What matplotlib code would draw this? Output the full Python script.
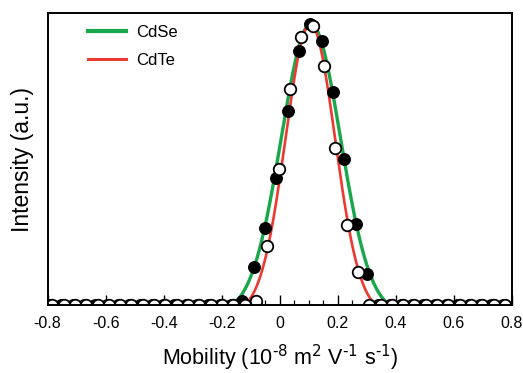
import numpy as np
import matplotlib
matplotlib.use("Agg")
import matplotlib.pyplot as plt

plt.rcParams['font.family'] = ['Liberation Sans', 'DejaVu Sans']

# Measured data (CdSe: filled circles, CdTe: open circles)
x_cdse = [-0.792, -0.753, -0.714, -0.675, -0.636, -0.597, -0.558, -0.519, -0.480, -0.441,
          -0.402, -0.363, -0.324, -0.285, -0.246, -0.207, -0.168, -0.129, -0.090, -0.051,
          -0.012, 0.027, 0.066, 0.105, 0.144, 0.183, 0.222, 0.261, 0.300, 0.339,
          0.378, 0.417, 0.456, 0.495, 0.534, 0.573, 0.612, 0.651, 0.690, 0.729, 0.768]
y_cdse = [0, 0, 0, 0, 0, 0, 0, 0, 0, 0,
          0, 0, 0, 0, 0, 0, 0, 0.015, 0.136, 0.275,
          0.453, 0.690, 0.903, 1.000, 0.938, 0.757, 0.518, 0.290, 0.110, 0,
          0, 0, 0, 0, 0, 0, 0, 0, 0, 0, 0]

x_cdte = [-0.784, -0.745, -0.706, -0.667, -0.628, -0.589, -0.550, -0.511, -0.472, -0.433,
          -0.394, -0.355, -0.316, -0.277, -0.238, -0.199, -0.160, -0.121, -0.082, -0.043,
          -0.004, 0.035, 0.074, 0.113, 0.152, 0.191, 0.230, 0.269, 0.308, 0.347,
          0.386, 0.425, 0.464, 0.503, 0.542, 0.581, 0.620, 0.659, 0.698, 0.737, 0.776]
y_cdte = [0, 0, 0, 0, 0, 0, 0, 0, 0, 0,
          0, 0, 0, 0, 0, 0, 0, 0, 0.015, 0.209,
          0.482, 0.767, 0.953, 0.991, 0.850, 0.560, 0.286, 0.118, 0, 0,
          0, 0, 0, 0, 0, 0, 0, 0, 0, 0, 0]

# Gaussian fit parameters (center, sigma, baseline offset)
cdse_fit = (0.107, 0.102, 0.03)
cdte_fit = (0.105, 0.085, 0.03)

xticks = [-0.8, -0.6, -0.4, -0.2, 0, 0.2, 0.4, 0.6, 0.8]
xtick_labels = ['-0.8', '-0.6', '-0.4', '-0.2', '0', '0.2', '0.4', '0.6', '0.8']

green = '#1aa64a'
red = '#ec3a30'

def fit_curve(x, params):
    c, s, b = params
    return (1 + b) * np.exp(-(x - c) ** 2 / (2 * s ** 2)) - b

fig = plt.figure(figsize=(5.23, 3.73), dpi=100)
ax = fig.add_axes([0.091, 0.182, 0.888, 0.783])

xs = np.linspace(-0.8, 0.8, 1200)
ax.plot(xs, fit_curve(xs, cdse_fit), color=green, lw=2.4, label='CdSe', zorder=2)
ax.plot(xs, fit_curve(xs, cdte_fit), color=red, lw=1.9, label='CdTe', zorder=2)

ax.plot(x_cdse, y_cdse, 'o', color='black', ms=8.3, mec='black', mew=1.0, zorder=3)
ax.plot(x_cdte, y_cdte, 'o', mfc='white', mec='black', ms=8.3, mew=1.3, zorder=4)

ax.set_xlim(-0.8, 0.8)
ax.set_ylim(0, 1.038)
ax.set_xticks(xticks)
ax.set_xticklabels(xtick_labels)
ax.set_xticks(np.arange(-0.8, 0.801, 0.05), minor=True)
ax.set_yticks([])
ax.tick_params(axis='x', which='major', direction='in', length=7, width=1.0,
               labelsize=11.5, pad=7.5, top=False)
ax.tick_params(axis='x', which='minor', direction='in', length=3.5, width=0.9, top=False)
for sp in ax.spines.values():
    sp.set_linewidth(1.4)
    sp.set_zorder(5)

ax.set_xlabel('Mobility (10$^{\\text{-8}}$ m$^{\\text{2}}$ V$^{\\text{-1}}$ s$^{\\text{-1}}$)',
              fontsize=15.5, labelpad=9)
ax.set_ylabel('Intensity (a.u.)', fontsize=16.5, labelpad=10)

leg = ax.legend(loc='upper left', bbox_to_anchor=(0.055, 1.01), frameon=False, fontsize=12,
                handlelength=2.3, handletextpad=0.6, labelspacing=0.75)
leg.get_lines()[0].set_linewidth(3.0)
leg.get_lines()[1].set_linewidth(2.2)

fig.savefig('out.png', dpi=100)
